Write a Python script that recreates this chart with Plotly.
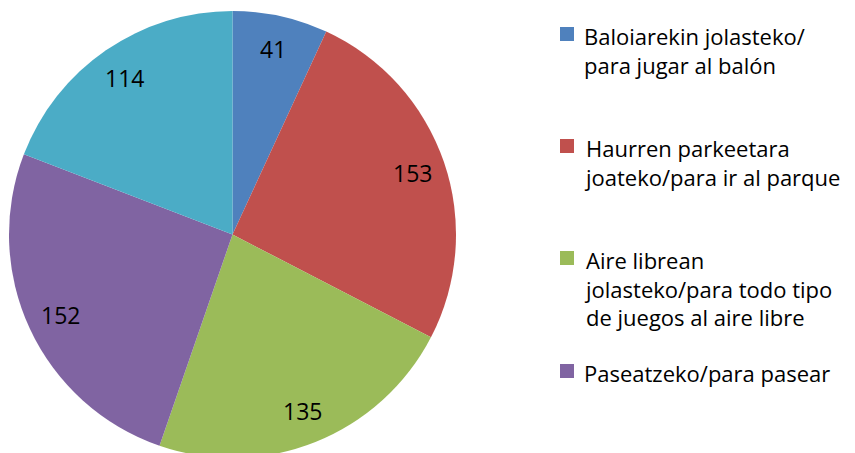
import math
import plotly.graph_objects as go

labels = [
    "Baloiarekin jolasteko/<br>para jugar al balón",
    "Haurren parkeetara<br>joateko/para ir al parque",
    "Aire librean<br>jolasteko/para todo tipo<br>de juegos al aire libre",
    "Paseatzeko/para pasear",
    "Beste batzuk/otros",
]
values = [41, 153, 135, 152, 114]
colors = ["#4F81BD", "#C0504D", "#9BBB59", "#8064A2", "#4BACC6"]
legend_items = 4  # the reference legend shows only the first four entries

W, H = 855, 453
FONT = "Open Sans"

# pie geometry in figure pixels (page has an 8px body margin)
CX, CY, R = 224.5, 226.5, 223.5
LABEL_R = 0.85

fig = go.Figure()
fig.add_trace(go.Pie(
    labels=labels,
    values=values,
    sort=False,
    direction="clockwise",
    rotation=0,
    marker=dict(colors=colors, line=dict(width=0)),
    textinfo="none",
    showlegend=False,
    hoverinfo="label+value",
    domain=dict(x=[(CX - R) / W, (CX + R) / W], y=[1 - (CY + R) / H, 1 - (CY - R) / H]),
))

annotations, shapes = [], []
total = sum(values)
cum = 0
for v in values:
    theta = 2 * math.pi * (cum + v / 2) / total
    cum += v
    px = CX + LABEL_R * R * math.sin(theta)
    py = CY - LABEL_R * R * math.cos(theta)
    annotations.append(dict(xref="paper", yref="paper", x=px / W, y=1 - py / H,
                            xanchor="center", yanchor="middle", showarrow=False,
                            text=str(v), font=dict(family=FONT, size=23, color="black")))

# manual legend (squares + wrapped text)
centers = [26, 138, 250, 363]
for i in range(legend_items):
    cy = centers[i]
    shapes.append(dict(type="rect", xref="paper", yref="paper",
                       x0=552 / W, x1=566 / W, y0=1 - (cy + 7) / H, y1=1 - (cy - 7) / H,
                       fillcolor=colors[i], line=dict(width=0)))
    annotations.append(dict(xref="paper", yref="paper", x=574 / W, y=1 - (cy - 15) / H,
                            xanchor="left", yanchor="top", align="left", showarrow=False,
                            text=labels[i], font=dict(family=FONT, size=22, color="black")))

fig.update_layout(
    width=W, height=H,
    margin=dict(l=0, r=0, t=0, b=0),
    paper_bgcolor="white", plot_bgcolor="white",
    shapes=shapes, annotations=annotations,
)
fig.write_html("out.html")
